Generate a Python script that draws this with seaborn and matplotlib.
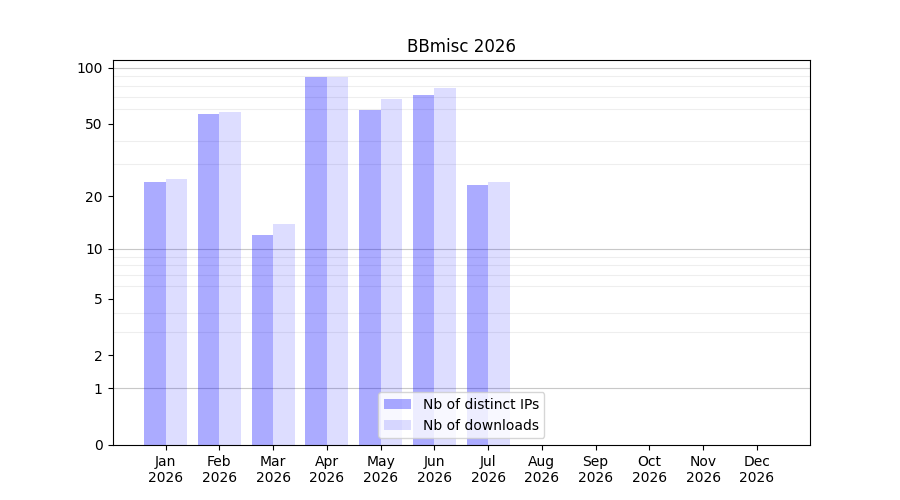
import numpy as np
import pandas as pd
import seaborn as sns
import matplotlib
matplotlib.use("Agg")
import matplotlib.pyplot as plt
from matplotlib.ticker import FixedLocator

# monthly numbers
months = ["Jan", "Feb", "Mar", "Apr", "May", "Jun", "Jul", "Aug", "Sep", "Oct", "Nov", "Dec"]
year = "2026"
distinct_ips = [24, 56, 12, 89, 59, 71, 23, 0, 0, 0, 0, 0]
downloads = [25, 58, 14, 89, 68, 78, 24, 0, 0, 0, 0, 0]
series = ["Nb of distinct IPs", "Nb of downloads"]
yticks = [0, 1, 2, 5, 10, 20, 50, 100]

df = pd.DataFrame({
    "month": months * 2,
    "value": distinct_ips + downloads,
    "series": [series[0]] * len(months) + [series[1]] * len(months),
})

fig, ax = plt.subplots(figsize=(9, 5), dpi=100)

# log(1+x) scale
ax.set_yscale("function", functions=(lambda v: np.log10(1 + np.clip(v, 0, None)),
                                     lambda v: 10 ** v - 1))

sns.barplot(data=df, x="month", y="value", hue="series", order=months,
            hue_order=series, palette=["blue", "blue"], width=0.8,
            errorbar=None, legend=False, ax=ax, saturation=1)

for cont, a in zip(ax.containers, [0.33, 0.135]):
    for p in cont:
        p.set_alpha(a)
        p.set_edgecolor("none")

ax.set_xlim(-0.99, 11.99)
ax.set_ylim(0, 110)
ax.set_yticks(yticks)
ax.set_yticklabels([str(t) for t in yticks])
ax.yaxis.set_minor_locator(FixedLocator([2, 3, 4, 5, 6, 7, 8, 9, 20, 30, 40, 50, 60, 70, 80, 90]))
ax.tick_params(axis="y", which="minor", length=0)
ax.grid(axis="y", which="minor", color="#eeeeee", linewidth=0.8, zorder=0)
for g in [1, 10, 100]:
    ax.axhline(g, color="#c8c8c8", linewidth=0.8, zorder=0)
ax.set_axisbelow(True)

ax.set_xticks(range(len(months)))
ax.set_xticklabels([m + "\n" + year for m in months])
ax.set_xlabel("")
ax.set_ylabel("")
ax.set_title("BBmisc 2026")

ax.legend(ax.containers, series, loc="lower center")

fig.savefig("out.png", dpi=100)
